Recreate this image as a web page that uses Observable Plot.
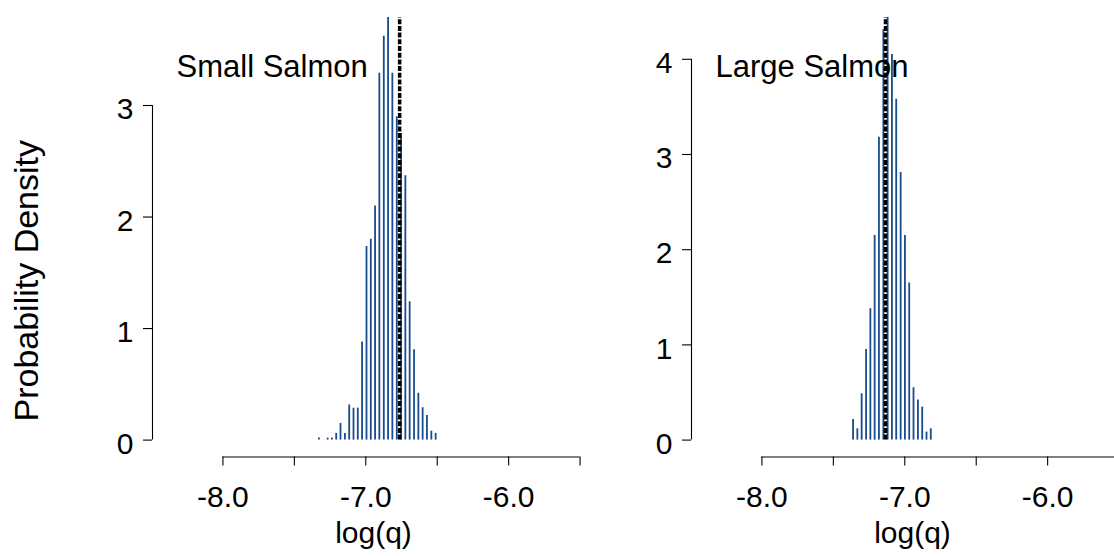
<!DOCTYPE html>
<html><head><meta charset="utf-8">
<script src="https://cdn.jsdelivr.net/npm/d3@7"></script>
<script src="https://cdn.jsdelivr.net/npm/@observablehq/plot@0.6"></script>
<style>
body{margin:0;background:#fff;}
#chart{position:relative;width:1114px;height:556px;overflow:hidden;background:#fff;}
#chart svg{position:absolute;top:0;}
</style></head><body><div id="chart"></div>
<script>
// ---- data ----
const smallCenters = [-7.328,-7.298,-7.267,-7.237,-7.207,-7.177,-7.146,-7.116,-7.086,-7.056,-7.026,-6.995,-6.965,-6.935,-6.905,-6.874,-6.844,-6.814,-6.783,-6.753,-6.723,-6.693,-6.662,-6.632,-6.602,-6.572,-6.541,-6.511];
const smallDensity = [0.018,0,0.018,0.018,0.06,0.15,0.06,0.315,0.286,0.286,0.88,1.735,1.80,2.10,3.29,3.62,3.79,3.29,2.90,2.75,2.37,1.24,0.81,0.42,0.29,0.22,0.08,0.06];
const largeCenters = [-7.362,-7.332,-7.302,-7.271,-7.241,-7.211,-7.181,-7.150,-7.120,-7.090,-7.060,-7.029,-6.999,-6.969,-6.939,-6.908,-6.878,-6.848,-6.818];
const largeDensity = [0.217,0.119,0.486,0.952,1.38,2.15,3.18,4.31,4.44,4.05,3.58,2.81,2.15,1.65,0.55,0.42,0.346,0.084,0.119];
const smallMean = -6.763;
const largeMean = -7.135;
const panelTitles = ["Small Salmon", "Large Salmon"];
const xTicks = [-8, -7.5, -7, -6.5, -6, -5.5];
const smallYTicks = [0, 1, 2, 3];
const largeYTicks = [0, 1, 2, 3, 4];
const xLabel = "log(q)";
const yLabel = "Probability Density";
const xUsr = [-8.493, -5.399];

const barColor = "#174b8d";
const font = "'Liberation Sans', Arial, Helvetica, sans-serif";

function panel({centers, density, mean, title, yTicks, left, width, marginLeft, marginRight, withYLabel}) {
  const rows = centers.map((c, i) => ({x: c, d: density[i]}));
  const yMax = d3.max(density);
  const yDomain = [-0.04 * yMax, 1.04 * yMax];
  const marks = [
    Plot.ruleX(rows, {x: "x", y1: 0, y2: "d", stroke: barColor, strokeWidth: 1.8}),
    Plot.ruleX([mean], {y1: 0, y2: yMax, stroke: "black", strokeWidth: 3.5, strokeDasharray: "5,1.7"}),
    // axis lines (R style: from first to last tick)
    Plot.ruleX([xUsr[0]], {y1: yTicks[0], y2: yTicks[yTicks.length - 1], stroke: "black", strokeWidth: 1.1}),
    Plot.ruleY([yDomain[0]], {x1: xTicks[0], x2: xTicks[xTicks.length - 1], stroke: "black", strokeWidth: 1.1}),
    Plot.axisY({ticks: yTicks, tickSize: 9, tickFormat: () => "", label: null, strokeWidth: 1.1}),
    Plot.axisY({ticks: yTicks, tickSize: 0, tickPadding: 19, dy: 4, tickFormat: d => String(d), label: null}),
    Plot.axisX({ticks: xTicks, tickSize: 9, tickPadding: 20, label: null, strokeWidth: 1.1,
      tickFormat: d => Number.isInteger(d) ? d.toFixed(1) : ""}),
    Plot.text([title], {frameAnchor: "top-left", dx: 24, dy: 76, lineAnchor: "bottom", textAnchor: "start", fontSize: 31, fill: "black"}),
    Plot.text([xLabel], {frameAnchor: "bottom", dy: 86, lineAnchor: "bottom", textAnchor: "middle", fontSize: 30, fill: "black"})
  ];
  if (withYLabel) {
    marks.push(Plot.text([yLabel], {frameAnchor: "left", rotate: -90, dx: -115, dy: 52, lineAnchor: "bottom", textAnchor: "middle", fontSize: 34, fill: "black"}));
  }
  const svg = Plot.plot({
    width, height: 556,
    marginLeft, marginRight, marginTop: 0, marginBottom: 99.5,
    x: {domain: xUsr, label: null},
    y: {domain: yDomain, label: null},
    style: {background: "transparent", overflow: "visible", fontFamily: font, fontSize: "30px", color: "black"},
    marks
  });
  svg.style.left = left + "px";
  return svg;
}

const chart = document.getElementById("chart");
chart.appendChild(panel({centers: smallCenters, density: smallDensity, mean: smallMean, title: panelTitles[0],
  yTicks: smallYTicks, left: 0, width: 620, marginLeft: 152, marginRight: 26, withYLabel: true}));
chart.appendChild(panel({centers: largeCenters, density: largeDensity, mean: largeMean, title: panelTitles[1],
  yTicks: largeYTicks, left: 620, width: 513, marginLeft: 71, marginRight: 0, withYLabel: false}));
</script>
</body></html>
